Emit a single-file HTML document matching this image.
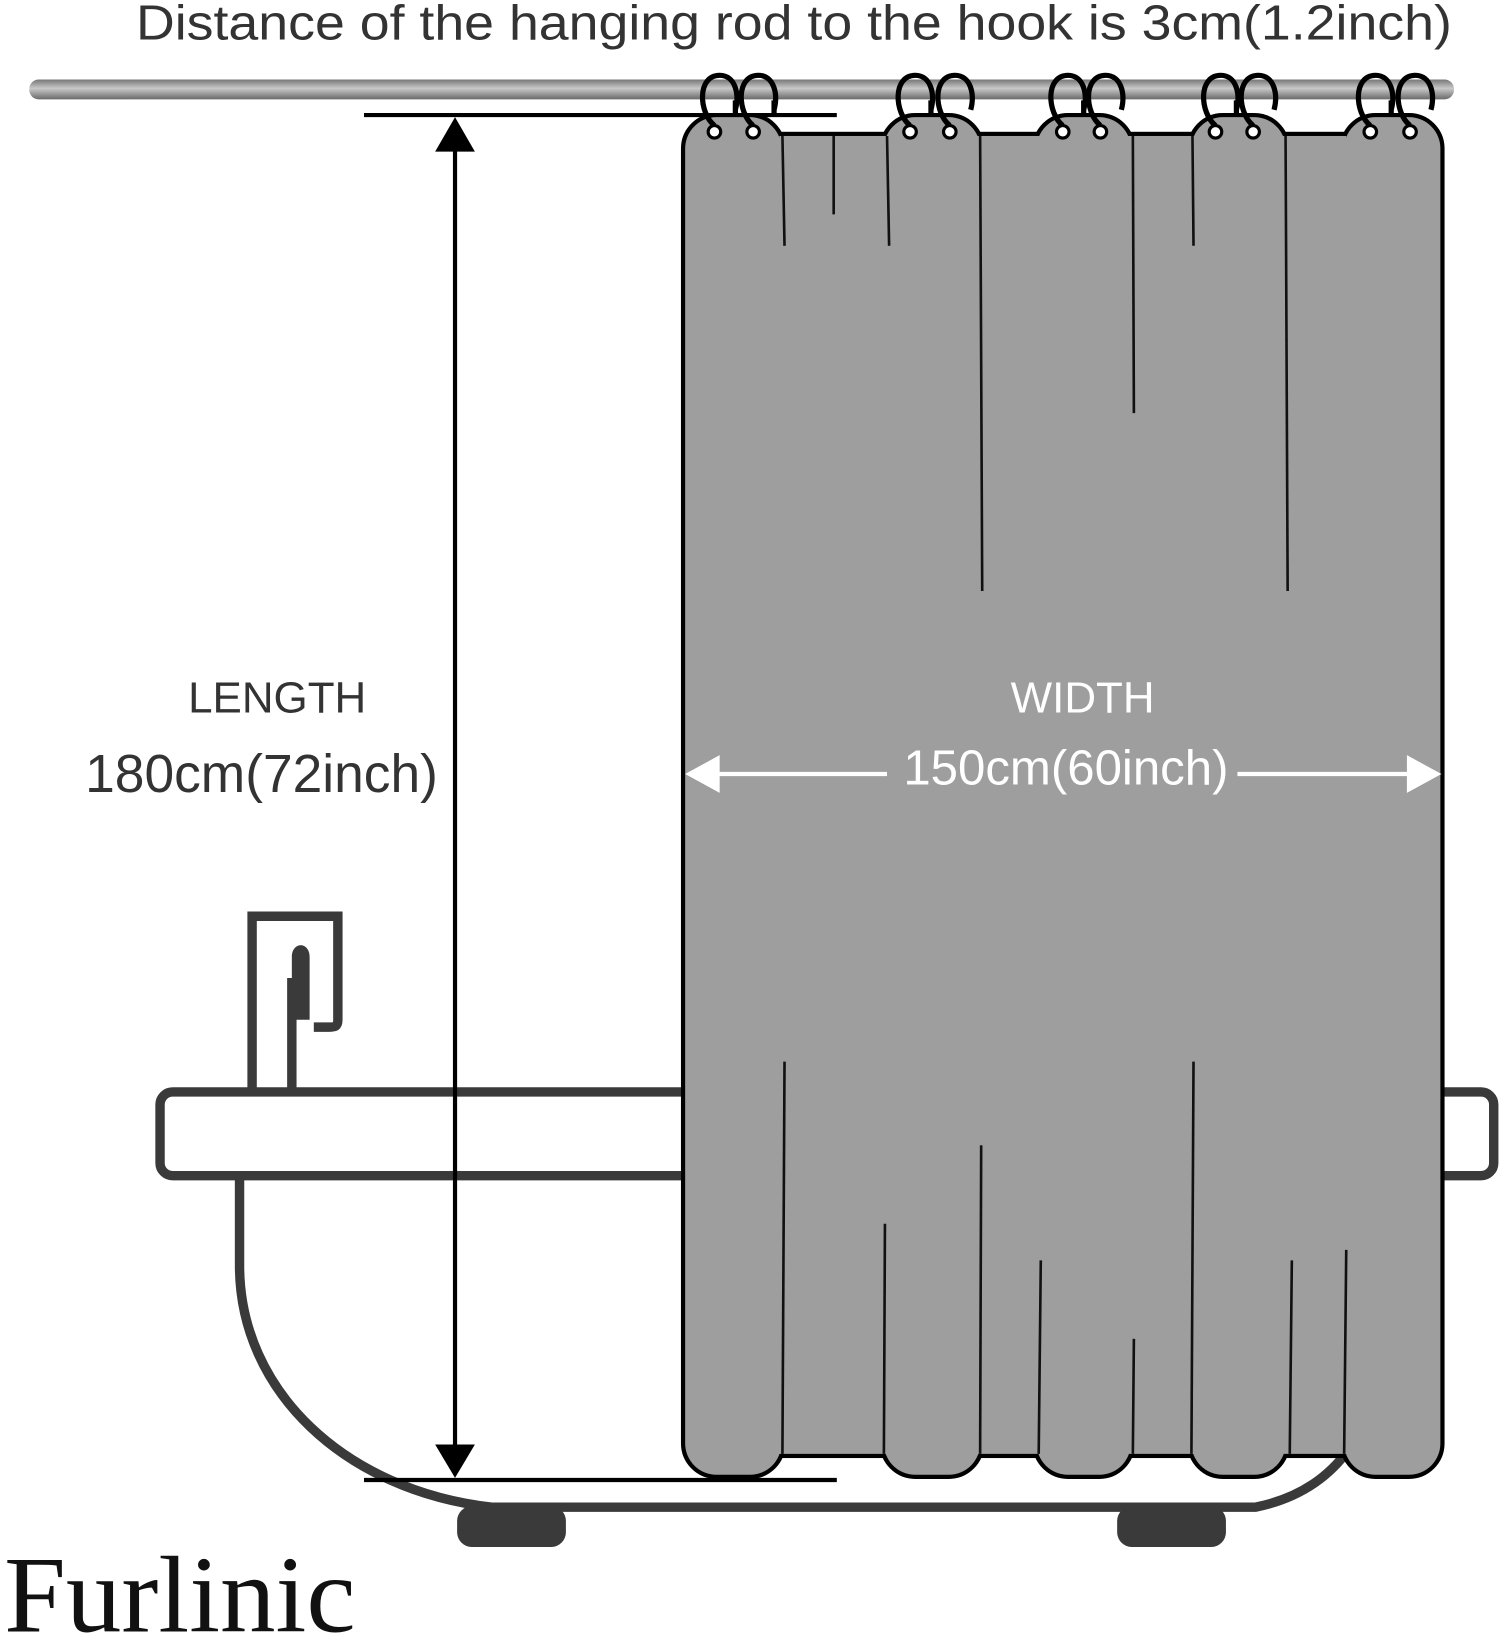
<!DOCTYPE html>
<html><head><meta charset="utf-8"><style>html,body{margin:0;padding:0;background:#fff}svg{display:block}</style></head>
<body>
<svg width="1500" height="1639" viewBox="0 0 1434 1567" preserveAspectRatio="none" xmlns="http://www.w3.org/2000/svg">
<defs>
<linearGradient id="rod" x1="0" y1="0" x2="0" y2="1">
<stop offset="0" stop-color="#777"/><stop offset="0.45" stop-color="#c8c8c8"/><stop offset="1" stop-color="#6a6a6a"/>
</linearGradient>
</defs>
<text x="130" y="38" font-family="Liberation Sans, sans-serif" font-size="47" fill="#333" textLength="1258" lengthAdjust="spacingAndGlyphs">Distance of the hanging rod to the hook is 3cm(1.2inch)</text>
<rect x="28" y="76" width="1362" height="19" rx="9" fill="url(#rod)"/>
<!-- tub -->
<g fill="none" stroke="#3a3a3a" stroke-width="9">
<path d="M229 1128 V1210 C229 1330 330 1425 470 1441 H1200 C1245 1432 1272 1410 1290 1385"/>
<rect x="153" y="1044" width="520" height="80" rx="12" fill="#fff"/>
<rect x="1360" y="1044" width="68" height="80" rx="12" fill="#fff"/>
<path d="M241 1044 V876 H323 V975 C323 982 320 982 314 982 H300 M279 1044 V935"/>
</g>
<path d="M279 1044 V915 C279 900 296 900 296 915 V975 L279 975 Z" fill="#3a3a3a"/>
<rect x="437" y="1440" width="104" height="39" rx="14" fill="#3a3a3a"/>
<rect x="1068" y="1440" width="104" height="39" rx="14" fill="#3a3a3a"/>
<!-- dimension lines -->
<g stroke="#000" stroke-width="4">
<line x1="348" y1="110" x2="800" y2="110"/>
<line x1="348" y1="1415" x2="800" y2="1415"/>
<line x1="435" y1="140" x2="435" y2="1390"/>
</g>
<polygon points="435,112 416,145 454,145" fill="#000"/>
<polygon points="435,1413 416,1381 454,1381" fill="#000"/>
<!-- curtain outline trick -->
<g stroke="#000" stroke-width="8" fill="#9e9e9e">
<rect x="745" y="130" width="542" height="1260"/>
<rect x="655" y="112" width="92" height="1298" rx="30"/>
<rect x="845" y="112" width="92" height="1298" rx="30"/>
<rect x="991" y="112" width="90" height="1298" rx="30"/>
<rect x="1139" y="112" width="90" height="1298" rx="30"/>
<rect x="1285" y="112" width="92" height="1298" rx="30"/>
</g>
<g fill="#9e9e9e">
<rect x="745" y="130" width="542" height="1260"/>
<rect x="655" y="112" width="92" height="1298" rx="30"/>
<rect x="845" y="112" width="92" height="1298" rx="30"/>
<rect x="991" y="112" width="90" height="1298" rx="30"/>
<rect x="1139" y="112" width="90" height="1298" rx="30"/>
<rect x="1285" y="112" width="92" height="1298" rx="30"/>
</g>
<!-- fold lines -->
<g stroke="#111" stroke-width="2.5">
<line x1="748" y1="130" x2="750" y2="235"/><line x1="797" y1="130" x2="797" y2="205"/>
<line x1="848" y1="130" x2="850" y2="235"/><line x1="937" y1="130" x2="939" y2="565"/>
<line x1="1083" y1="130" x2="1084" y2="395"/><line x1="1140" y1="130" x2="1141" y2="235"/>
<line x1="1229" y1="130" x2="1231" y2="565"/>
<line x1="750" y1="1015" x2="748" y2="1390"/><line x1="846" y1="1170" x2="845" y2="1390"/>
<line x1="938" y1="1095" x2="937" y2="1390"/><line x1="995" y1="1205" x2="993" y2="1390"/>
<line x1="1084" y1="1280" x2="1083" y2="1390"/><line x1="1141" y1="1015" x2="1139" y2="1390"/>
<line x1="1235" y1="1205" x2="1233" y2="1390"/><line x1="1287" y1="1195" x2="1285" y2="1390"/>
</g>
<!-- rings and holes -->
<g fill="#fff" stroke="#000" stroke-width="3">
<circle cx="683" cy="126" r="6"/><circle cx="720" cy="126" r="6"/>
<circle cx="870" cy="126" r="6"/><circle cx="908" cy="126" r="6"/>
<circle cx="1016" cy="126" r="6"/><circle cx="1052" cy="126" r="6"/>
<circle cx="1162" cy="126" r="6"/><circle cx="1198" cy="126" r="6"/>
<circle cx="1310" cy="126" r="6"/><circle cx="1348" cy="126" r="6"/>
</g>
<g fill="none" stroke="#000" stroke-width="5">
<path d="M683 120 C668 108 666 72 688 72 C703 72 707 90 703 105 M703 96 V110"/>
<path d="M720 120 C705 108 703 72 725 72 C740 72 744 90 740 105 M740 96 V110"/>
<path d="M870 120 C855 108 853 72 875 72 C890 72 894 90 890 105 M890 96 V110"/>
<path d="M908 120 C893 108 891 72 913 72 C928 72 932 90 928 105"/>
<path d="M1016 120 C1001 108 999 72 1021 72 C1036 72 1040 90 1036 105 M1036 96 V110"/>
<path d="M1052 120 C1037 108 1035 72 1057 72 C1072 72 1076 90 1072 105"/>
<path d="M1162 120 C1147 108 1145 72 1167 72 C1182 72 1186 90 1182 105 M1182 96 V110"/>
<path d="M1198 120 C1183 108 1181 72 1203 72 C1218 72 1222 90 1218 105"/>
<path d="M1310 120 C1295 108 1293 72 1315 72 C1330 72 1334 90 1330 105 M1330 96 V110"/>
<path d="M1348 120 C1333 108 1331 72 1353 72 C1368 72 1372 90 1368 105"/>
</g>
<!-- labels -->
<text x="265" y="681" font-family="Liberation Sans, sans-serif" font-size="42" fill="#333" text-anchor="middle">LENGTH</text>
<text x="250" y="757" font-family="Liberation Sans, sans-serif" font-size="51" fill="#333" text-anchor="middle">180cm(72inch)</text>
<text x="1035" y="681" font-family="Liberation Sans, sans-serif" font-size="42" fill="#fff" text-anchor="middle">WIDTH</text>
<text x="1019" y="750" font-family="Liberation Sans, sans-serif" font-size="47" fill="#fff" text-anchor="middle">150cm(60inch)</text>
<g stroke="#fff" stroke-width="4"><line x1="680" y1="740" x2="848" y2="740"/><line x1="1183" y1="740" x2="1352" y2="740"/></g>
<polygon points="655,740 688,722 688,758" fill="#fff"/>
<polygon points="1378,740 1345,722 1345,758" fill="#fff"/>
<text x="4" y="1560" font-family="Liberation Serif, serif" font-size="104" fill="#111" textLength="336" lengthAdjust="spacingAndGlyphs">Furlinic</text>
</svg>
</body></html>
